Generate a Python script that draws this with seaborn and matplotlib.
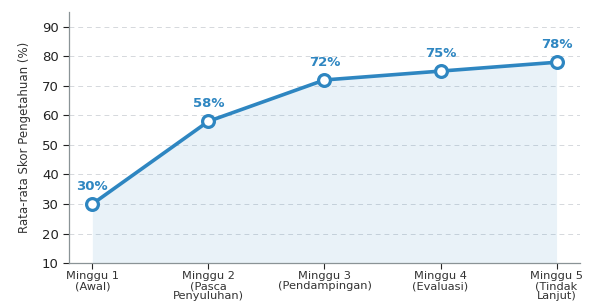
import matplotlib
matplotlib.use("Agg")
import matplotlib.pyplot as plt
import seaborn as sns
import pandas as pd

categories = ["Minggu 1\n(Awal)", "Minggu 2\n(Pasca\nPenyuluhan)", "Minggu 3\n(Pendampingan)",
              "Minggu 4\n(Evaluasi)", "Minggu 5\n(Tindak\nLanjut)"]
scores = [30, 58, 72, 75, 78]
yticks = [10, 20, 30, 40, 50, 60, 70, 80, 90]

df = pd.DataFrame({"x": range(len(categories)), "score": scores})

sns.set_theme(style="white")
plt.rcParams['font.family'] = ['DejaVu Sans']

color = "#2E86C1"
fig = plt.figure(figsize=(5.91, 3.01), dpi=100)
ax = fig.add_axes([0.117, 0.126, 0.864, 0.834])

ax.fill_between(df["x"], df["score"], 10, color=color, alpha=0.1, linewidth=0)
sns.lineplot(data=df, x="x", y="score", ax=ax, color=color, linewidth=2.6,
             marker="o", markersize=8.5, markerfacecolor="white",
             markeredgecolor=color, markeredgewidth=2.3, zorder=5)

for x, v in zip(df["x"], scores):
    ax.annotate(f"{v}%", (x, v), xytext=(0, 8), textcoords="offset points",
                ha="center", va="bottom", fontsize=9.5, fontweight="bold", color=color)

ax.set_xlim(-0.2, 4.2)
ax.set_ylim(10, 95)
ax.set_yticks(yticks)
ax.set_xticks(range(len(categories)))
ax.set_xticklabels(categories, fontsize=8.2, color="#333333", linespacing=0.95)
ax.tick_params(axis="y", labelsize=9.5, colors="#222222", length=4, width=0.8, left=True)
ax.tick_params(axis="x", length=4, width=0.8, bottom=True, pad=2)
ax.set_xlabel("")
ax.set_ylabel("Rata-rata Skor Pengetahuan (%)", fontsize=8.5, color="#333333", labelpad=8)

ax.yaxis.grid(True, linestyle=(0, (5, 4)), color="#d5d8dc", linewidth=0.7)
ax.xaxis.grid(False)
ax.set_axisbelow(True)
for s in ["top", "right"]:
    ax.spines[s].set_visible(False)
for s in ["left", "bottom"]:
    ax.spines[s].set_color("#8a9396")
    ax.spines[s].set_linewidth(0.9)

fig.savefig("out.png", dpi=100)
